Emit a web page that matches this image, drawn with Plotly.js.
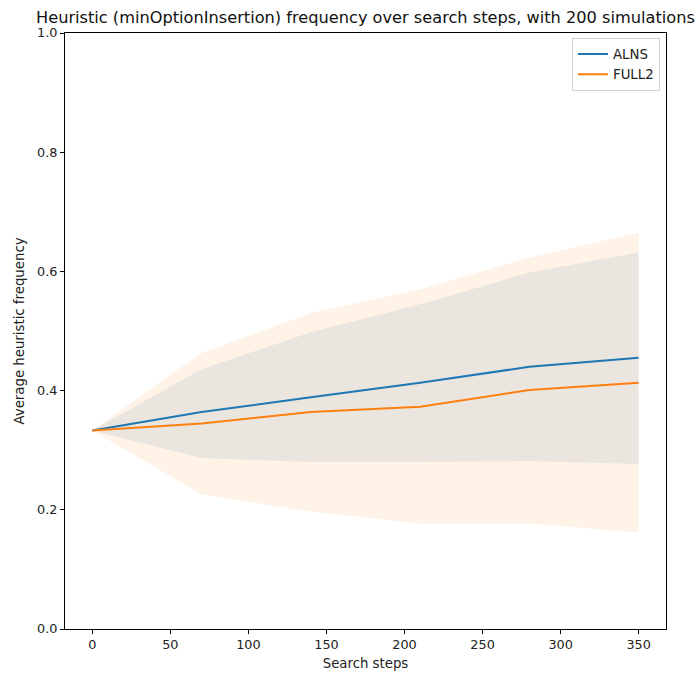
<!DOCTYPE html>
<html>
<head>
<meta charset="utf-8">
<script src="https://cdn.plot.ly/plotly-3.0.1.min.js"></script>
<style>html,body{margin:0;padding:0;background:#fff;}#chart{width:699px;height:675px;}</style>
</head>
<body>
<div id="chart"></div>
<script>
// Data
const steps = [0, 70, 140, 210, 280, 350];
const alnsMean  = [0.333, 0.364, 0.389, 0.413, 0.440, 0.455];
const alnsUpper = [0.333, 0.436, 0.498, 0.545, 0.598, 0.632];
const alnsLower = [0.333, 0.287, 0.280, 0.280, 0.282, 0.277];
const full2Mean  = [0.333, 0.345, 0.364, 0.373, 0.401, 0.413];
const full2Upper = [0.333, 0.463, 0.530, 0.570, 0.623, 0.665];
const full2Lower = [0.333, 0.226, 0.197, 0.177, 0.177, 0.162];
const seriesNames = ['ALNS', 'FULL2'];
const xTicks = [0, 50, 100, 150, 200, 250, 300, 350];
const yTicks = [0, 0.2, 0.4, 0.6, 0.8, 1.0];

function band(upper, lower, color) {
  return {
    x: steps.concat(steps.slice().reverse()),
    y: upper.concat(lower.slice().reverse()),
    type: 'scatter', mode: 'lines', fill: 'toself',
    fillcolor: color, line: {width: 0, color: 'rgba(0,0,0,0)'},
    showlegend: false, hoverinfo: 'skip'
  };
}

const traces = [
  band(alnsUpper, alnsLower, 'rgba(31,119,180,0.1)'),
  band(full2Upper, full2Lower, 'rgba(255,127,14,0.1)'),
  {x: steps, y: alnsMean, type: 'scatter', mode: 'lines', name: seriesNames[0],
   line: {color: '#1f77b4', width: 2}},
  {x: steps, y: full2Mean, type: 'scatter', mode: 'lines', name: seriesNames[1],
   line: {color: '#ff7f0e', width: 2}}
];

const fam = 'DejaVu Sans, sans-serif';
const tickFont = {family: fam, size: 12.8, color: '#222'};
const labelFont = {family: fam, size: 13.3, color: '#222'};
const layout = {
  width: 699, height: 675,
  margin: {l: 65, r: 33, t: 33, b: 46},
  paper_bgcolor: '#fff', plot_bgcolor: '#fff',
  font: tickFont,
  title: {text: 'Heuristic (minOptionInsertion) frequency over search steps, with 200 simulations',
          font: {family: fam, size: 16.2, color: '#111'},
          xref: 'container', x: 36/699, xanchor: 'left', yref: 'container', y: 1 - 17/675, yanchor: 'middle'},
  xaxis: {range: [-17.5, 367.5], tickvals: xTicks, ticktext: xTicks.map(String),
          ticks: 'outside', ticklen: 4, tickcolor: '#000', showline: true, mirror: true,
          linecolor: '#000', linewidth: 1, showgrid: false, zeroline: false, tickfont: tickFont,
          title: {text: 'Search steps', font: labelFont, standoff: 7}},
  yaxis: {range: [0, 1], tickvals: yTicks, ticktext: yTicks.map(v => v.toFixed(1)),
          ticks: 'outside', ticklen: 4, tickcolor: '#000', showline: true, mirror: true,
          linecolor: '#000', linewidth: 1, showgrid: false, zeroline: false, tickfont: tickFont,
          title: {text: 'Average heuristic frequency', font: labelFont, standoff: 9}},
  legend: {x: 0.99, y: 0.992, xanchor: 'right', yanchor: 'top',
           bgcolor: 'rgba(255,255,255,0.8)', bordercolor: '#d0d0d0', borderwidth: 1,
           font: labelFont, tracegroupgap: 2},
  showlegend: true
};

Plotly.newPlot('chart', traces, layout, {displayModeBar: false, staticPlot: true});
</script>
</body>
</html>
